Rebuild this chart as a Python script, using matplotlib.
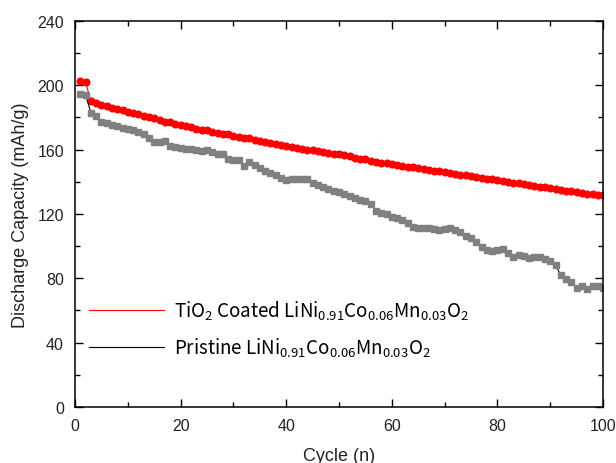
import matplotlib
matplotlib.use("Agg")
import matplotlib.pyplot as plt
from matplotlib.ticker import MultipleLocator

# ---------------- data ----------------
cycles = list(range(1, 101))

coated = [202.5, 202, 190, 189, 188, 187, 186, 185, 184.5, 183.5,
          182.5, 182, 181, 180.5, 179.5, 178.5, 177.5, 177, 176, 175.5,
          174.5, 174, 173, 172.5, 172, 171, 170.5, 170, 169.5, 168.5,
          168, 167.5, 167, 166, 165.5, 165, 164, 163.5, 163, 162,
          161.5, 161, 160.5, 160, 159.5, 159, 158.5, 158, 157.5, 157,
          156.5, 156, 155, 154.5, 154, 153, 152.5, 152, 151.5, 151,
          150.5, 150, 149.5, 149, 148.5, 148, 147.5, 147, 146.5, 146,
          145.5, 145, 144.5, 144, 143.5, 143, 142.5, 142, 141.5, 141,
          140.5, 140, 139.5, 139, 138.5, 138, 137.5, 137, 136.5, 136,
          135.5, 135, 134.5, 134, 133.5, 133, 132.5, 132.5, 132, 131.5]

pristine = [194.5, 194, 183, 181, 177.5, 176.5, 175.5, 174.5, 173.5, 173,
            172, 171, 170, 167, 164.5, 165, 165.5, 162.5, 161.5, 161,
            160.5, 160.5, 160, 159, 159.5, 158.5, 157.5, 157.5, 154.5, 153.5,
            153.5, 150, 152.5, 150.5, 148.5, 147, 145.5, 144, 142.5, 141,
            141.5, 141.5, 141.5, 142, 139.5, 138, 136.5, 135.5, 134.5, 133.5,
            132.5, 131, 130, 129, 128, 126, 122, 120.5, 120, 118,
            117.5, 116.5, 114.5, 112, 111, 111.5, 111, 110.5, 110, 110.5,
            111, 110, 109, 106.5, 105, 102.5, 99.5, 97.5, 97, 97.5,
            98, 95.5, 93.5, 94.5, 94, 92.5, 93, 93.5, 92, 90.5,
            88, 82, 79.5, 78, 74, 75.5, 73.5, 75.5, 75, 74]

label_coated = r"TiO$_2$ Coated LiNi$_{0.91}$Co$_{0.06}$Mn$_{0.03}$O$_2$"
label_pristine = r"Pristine LiNi$_{0.91}$Co$_{0.06}$Mn$_{0.03}$O$_2$"

# ---------------- plot ----------------
plt.rcParams['font.family'] = ['Liberation Sans', 'DejaVu Sans']
plt.rcParams['mathtext.default'] = 'regular'

fig = plt.figure(figsize=(6.16, 4.64), dpi=100)
ax = fig.add_axes([0.1218, 0.1207, 0.8572, 0.8319])

ax.plot(cycles, coated, color='red', lw=0.8, marker='o', ms=4.8,
        mfc='red', mec='red', label=label_coated)
ax.plot(cycles, pristine, color='black', lw=0.8, marker='s', ms=4.3,
        mfc='#808080', mec='#808080', label=label_pristine)

ax.set_xlim(0, 100)
ax.set_ylim(0, 240)
ax.xaxis.set_major_locator(MultipleLocator(20))
ax.xaxis.set_minor_locator(MultipleLocator(10))
ax.yaxis.set_major_locator(MultipleLocator(40))
ax.yaxis.set_minor_locator(MultipleLocator(20))
ax.tick_params(which='both', direction='in', top=True, right=True,
               labelsize=11.5, labelcolor='#222222', width=1)
ax.tick_params(which='major', length=6, pad=8)
ax.tick_params(which='minor', length=3.5)
for s in ax.spines.values():
    s.set_linewidth(1.1)

ax.set_xlabel("Cycle (n)", fontsize=13, color='#222222', labelpad=10)
ax.set_ylabel("Discharge Capacity (mAh/g)", fontsize=13, color='#222222', labelpad=6)

leg = ax.legend(loc='lower left', bbox_to_anchor=(-0.005, 0.08), frameon=False,
                handlelength=4.0, handletextpad=0.5, labelspacing=0.75,
                prop={'family': ['Noto Sans CJK KR', 'DejaVu Sans'], 'size': 13.5})
for h in leg.legend_handles:
    h.set_marker('')

fig.savefig("out.png", dpi=100)
